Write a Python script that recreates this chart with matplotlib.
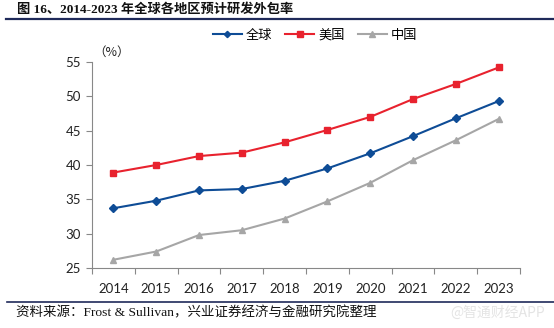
import matplotlib
matplotlib.use("Agg")
import matplotlib.pyplot as plt
from matplotlib.lines import Line2D

years = ["2014", "2015", "2016", "2017", "2018", "2019", "2020", "2021", "2022", "2023"]
global_vals = [33.7, 34.8, 36.3, 36.5, 37.7, 39.5, 41.7, 44.2, 46.8, 49.3]
us_vals = [38.9, 40.0, 41.3, 41.8, 43.3, 45.1, 47.0, 49.6, 51.8, 54.2]
china_vals = [26.2, 27.4, 29.8, 30.5, 32.2, 34.7, 37.4, 40.7, 43.6, 46.7]
series_names = ["全球", "美国", "中国"]
yticks = [25, 30, 35, 40, 45, 50, 55]

title = "图 16、2014-2023 年全球各地区预计研发外包率"
source = "资料来源：Frost & Sullivan，兴业证券经济与金融研究院整理"

W, H = 554, 328
fig = plt.figure(figsize=(W / 100, H / 100), dpi=100)
fig.patch.set_facecolor("white")

serif = ["Liberation Serif", "Noto Sans CJK SC"]
cjk = ["Noto Sans CJK SC", "DejaVu Sans"]

ax = fig.add_axes([92 / W, (H - 268) / H, (520 - 92) / W, (268 - 62) / H])
x = list(range(len(years)))
c_blue, c_red, c_gray = "#0E4C96", "#E8222E", "#A6A6A6"
ax.plot(x, global_vals, color=c_blue, lw=1.5, marker="D", ms=3.8, label=series_names[0])
ax.plot(x, us_vals, color=c_red, lw=1.5, marker="s", ms=4.6, label=series_names[1])
ax.plot(x, china_vals, color=c_gray, lw=1.5, marker="^", ms=5.0, label=series_names[2])

ax.set_xlim(-0.5, len(years) - 0.5)
ax.set_ylim(25, 55)
ax.set_yticks(yticks)
ax.set_yticklabels([str(v) for v in yticks], fontfamily="Lato", fontsize=9.5, color="#222222")
ax.set_xticks(x)
ax.set_xticklabels(years, fontfamily="Lato", fontsize=9.5, color="#222222")
ax.set_xticks([i - 0.5 for i in range(len(years) + 1)], minor=True)
ax.tick_params(axis="x", which="major", length=0, pad=11)
ax.tick_params(axis="x", which="minor", length=4, color="#888888", width=0.8)
ax.tick_params(axis="y", length=4, color="#888888", width=0.8, pad=4)
for s in ["top", "right"]:
    ax.spines[s].set_visible(False)
for s in ["left", "bottom"]:
    ax.spines[s].set_color("#888888")
    ax.spines[s].set_linewidth(0.8)

# legend
handles = [
    Line2D([], [], color=c_blue, lw=1.5, marker="D", ms=3.2),
    Line2D([], [], color=c_red, lw=1.5, marker="s", ms=4.0),
    Line2D([], [], color=c_gray, lw=1.5, marker="^", ms=4.2),
]
fig.legend(handles, series_names, loc="center", bbox_to_anchor=(315 / W, 1 - 35 / H),
           ncol=3, frameon=False, prop={"family": cjk, "size": 9.5},
           handlelength=2.2, handletextpad=0.3, columnspacing=1.0)

fig.text(111.5 / W, 1 - 52 / H, "（%）", ha="center", va="center", fontsize=9, family=cjk, color="#222222")

# title and separator lines
fig.text(17 / W, 1 - 10 / H, title, ha="left", va="center", fontsize=9.5, fontweight="bold", family=serif, color="#111111")
fig.add_artist(Line2D([6 / W, 1.0], [1 - 19 / H, 1 - 19 / H], color="#1F2A5A", lw=1.6))
fig.add_artist(Line2D([7 / W, 1.0], [1 - 301.5 / H, 1 - 301.5 / H], color="#1F2A5A", lw=1.2))
fig.text(16 / W, 1 - 313 / H, source, ha="left", va="center", fontsize=9.7, family=serif, color="#111111")
fig.text(545 / W, 1 - 313 / H, "@智通财经APP", ha="right", va="center", fontsize=10, family=cjk, color="#E4E4E4")

fig.savefig("out.png", dpi=100, facecolor="white")
